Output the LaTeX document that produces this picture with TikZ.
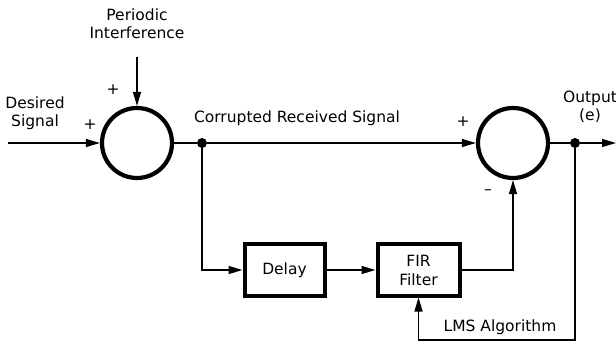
\documentclass[tikz,border=0pt]{standalone}
\usepackage{fontspec}
\setmainfont{DejaVu Sans}
\usetikzlibrary{arrows.meta}

\tikzset{
  sumnode/.style={draw, circle, line width=4.2pt, minimum size=70pt, inner sep=0pt},
  blockbox/.style={draw, line width=4pt, minimum height=51pt, align=center, font=\fontsize{15.5}{19}\selectfont},
  sig/.style={line width=1.3pt, -{Triangle[length=14pt,width=8pt]}},
  wire/.style={line width=1.3pt},
  junction/.style={circle, fill, inner sep=0pt, minimum size=10pt},
  lbl/.style={align=center, font=\fontsize{15.5}{18}\selectfont}
}

\begin{document}
\begin{tikzpicture}[x=1pt,y=1pt]
  \useasboundingbox (0,0) rectangle (616,343);
  % summing junctions and blocks
  \node[sumnode] (sumA) at (137,200) {};
  \node[sumnode] (sumB) at (513,200) {};
  \node[blockbox, minimum width=80pt] (delay) at (284.5,73) {Delay};
  \node[blockbox, minimum width=82pt] (fir) at (418.5,73) {FIR\\Filter};
  \node[junction] (jA) at (202,200) {};
  \node[junction] (jB) at (575,200) {};
  \coordinate (inp) at (8,200);
  \coordinate (outp) at (616,200);
  \coordinate (intf) at (137,286);
  \coordinate (fb) at (575,3);

  % signal paths
  \draw[sig] (inp) -- (sumA);
  \draw[sig] (intf) -- (sumA);
  \draw[wire] (sumA) -- (jA);
  \draw[sig] (jA) -- (sumB);
  \draw[sig] (jA) |- (delay);
  \draw[sig] (delay) -- (fir);
  \draw[sig] (fir.east) -| (sumB.south);
  \draw[wire] (sumB) -- (jB);
  \draw[sig] (jB) -- (outp);
  \draw[sig] (jB) -- (fb) -| (fir.south);

  % labels
  \node[lbl] (lblDes) at (35,230) {Desired\\Signal};
  \node[lbl] (lblPer) at (137,319) {Periodic\\Interference};
  \node[lbl] (lblCor) at (297,225) {Corrupted Received Signal};
  \node[lbl] (lblOut) at (590,236) {Output\\(e)};
  \node[lbl] (lblLms) at (500,16) {LMS Algorithm};
  \node[lbl] (pA) at (90,218) {+};
  \node[lbl] (pB) at (113,253) {+};
  \node[lbl] (pC) at (463,221) {+};
  \node[lbl] (mC) at (488,151) {\textendash};
\end{tikzpicture}
\end{document}
